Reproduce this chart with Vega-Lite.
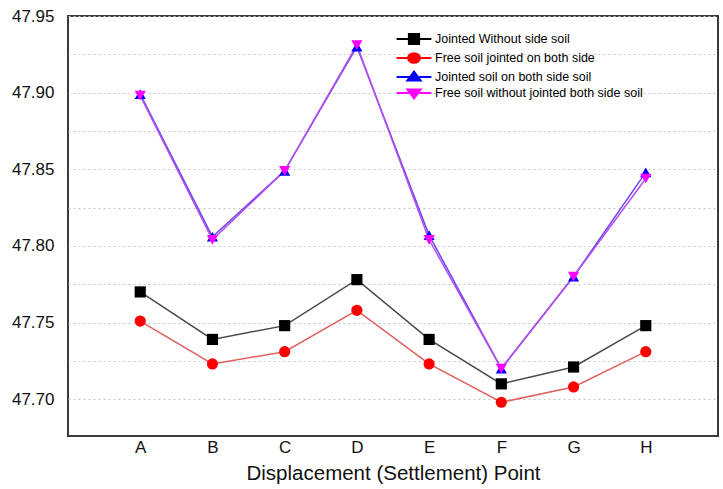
{
  "$schema": "https://vega.github.io/schema/vega-lite/v6.json",
  "width": 650,
  "height": 420,
  "autosize": "none",
  "padding": {"left": 68, "top": 16, "right": 5, "bottom": 53},
  "background": "white",
  "config": {
    "font": "Liberation Sans",
    "view": {"stroke": "#3a3a3a", "strokeWidth": 2}
  },
  "data": {
    "values": [
      {"point": "A", "series": "Jointed Without side soil", "value": 47.770},
      {"point": "B", "series": "Jointed Without side soil", "value": 47.739},
      {"point": "C", "series": "Jointed Without side soil", "value": 47.748},
      {"point": "D", "series": "Jointed Without side soil", "value": 47.778},
      {"point": "E", "series": "Jointed Without side soil", "value": 47.739},
      {"point": "F", "series": "Jointed Without side soil", "value": 47.710},
      {"point": "G", "series": "Jointed Without side soil", "value": 47.721},
      {"point": "H", "series": "Jointed Without side soil", "value": 47.748},
      {"point": "A", "series": "Free soil jointed on both side", "value": 47.751},
      {"point": "B", "series": "Free soil jointed on both side", "value": 47.723},
      {"point": "C", "series": "Free soil jointed on both side", "value": 47.731},
      {"point": "D", "series": "Free soil jointed on both side", "value": 47.758},
      {"point": "E", "series": "Free soil jointed on both side", "value": 47.723},
      {"point": "F", "series": "Free soil jointed on both side", "value": 47.698},
      {"point": "G", "series": "Free soil jointed on both side", "value": 47.708},
      {"point": "H", "series": "Free soil jointed on both side", "value": 47.731},
      {"point": "A", "series": "Jointed soil on both side soil", "value": 47.899},
      {"point": "B", "series": "Jointed soil on both side soil", "value": 47.806},
      {"point": "C", "series": "Jointed soil on both side soil", "value": 47.849},
      {"point": "D", "series": "Jointed soil on both side soil", "value": 47.930},
      {"point": "E", "series": "Jointed soil on both side soil", "value": 47.807},
      {"point": "F", "series": "Jointed soil on both side soil", "value": 47.720},
      {"point": "G", "series": "Jointed soil on both side soil", "value": 47.780},
      {"point": "H", "series": "Jointed soil on both side soil", "value": 47.848},
      {"point": "A", "series": "Free soil without jointed both side soil", "value": 47.898},
      {"point": "B", "series": "Free soil without jointed both side soil", "value": 47.804},
      {"point": "C", "series": "Free soil without jointed both side soil", "value": 47.849},
      {"point": "D", "series": "Free soil without jointed both side soil", "value": 47.931},
      {"point": "E", "series": "Free soil without jointed both side soil", "value": 47.804},
      {"point": "F", "series": "Free soil without jointed both side soil", "value": 47.720},
      {"point": "G", "series": "Free soil without jointed both side soil", "value": 47.780},
      {"point": "H", "series": "Free soil without jointed both side soil", "value": 47.844}
    ]
  },
  "encoding": {
    "x": {
      "field": "point",
      "type": "ordinal",
      "scale": {"type": "point", "padding": 1.04},
      "axis": {
        "title": "Displacement (Settlement) Point",
        "titleFontSize": 20.5,
        "titleFontWeight": "normal",
        "titleColor": "#111",
        "titlePadding": 8,
        "labelAngle": 0,
        "labelFontSize": 17,
        "labelColor": "#111",
        "labelPadding": 3,
        "ticks": false,
        "domain": false,
        "grid": false
      }
    },
    "y": {
      "field": "value",
      "type": "quantitative",
      "scale": {"domain": [47.676, 47.95], "nice": false, "zero": false},
      "axis": {
        "title": null,
        "values": [47.7, 47.725, 47.75, 47.775, 47.8, 47.825, 47.85, 47.875, 47.9, 47.925, 47.95],
        "labelExpr": "abs(datum.value * 20 - round(datum.value * 20)) < 0.01 ? format(datum.value, '.2f') : ''",
        "labelFontSize": 17,
        "labelColor": "#111",
        "labelPadding": 14,
        "ticks": false,
        "domain": false,
        "grid": true,
        "gridColor": "#c4c4c4",
        "gridDash": [2, 3],
        "gridWidth": 1,
        "encode": {"labels": {"update": {"dx": {"signal": "datum.value > 47.89 ? 8 : 0"}}}}
      }
    }
  },
  "layer": [
    {
      "mark": {"type": "line", "strokeWidth": 1.5},
      "encoding": {
        "stroke": {
          "field": "series",
          "type": "nominal",
          "scale": {
            "range": ["#e06060", "#b44cf0", "#4a4a4a", "#6a45f0"]
          },
          "legend": null
        }
      }
    },
    {
      "mark": {"type": "point", "filled": true, "opacity": 1, "size": 125},
      "encoding": {
        "fill": {
          "field": "series",
          "type": "nominal",
          "scale": {
            "domain": ["Jointed Without side soil", "Free soil jointed on both side", "Jointed soil on both side soil", "Free soil without jointed both side soil"],
            "range": ["#000000", "#ff0000", "#0000ff", "#ff00ff"]
          },
          "legend": {
            "title": null,
            "orient": "none",
            "legendX": 339,
            "legendY": 16,
            "labelFontSize": 12.5,
            "labelColor": "#000",
            "labelOffset": 14,
            "labelLimit": 400,
            "rowPadding": 0,
            "symbolSize": 144,
            "symbolStrokeWidth": 2,
            "symbolOpacity": 1,
            "encode": {
              "symbols": {
                "update": {
                  "stroke": {"signal": "scale('fill', datum.value)"},
                  "shape": {"signal": "datum.value == 'Jointed Without side soil' ? 'M-2.9,0H2.9M-0.85,-0.85H0.85V0.85H-0.85Z' : datum.value == 'Free soil jointed on both side' ? 'M-2.9,0H2.9M1,0A1,0.79 0 1,1 -1,0A1,0.79 0 1,1 1,0Z' : datum.value == 'Jointed soil on both side soil' ? 'M-2.9,0H2.9M0,-0.88L1.1,0.58H-1.1Z' : 'M-2.9,0H2.9M0,0.88L1.1,-0.58H-1.1Z'"}
                }
              }
            }
          }
        },
        "shape": {
          "field": "series",
          "type": "nominal",
          "scale": {
            "range": ["circle", "triangle-down", "square", "triangle-up"]
          },
          "legend": null
        }
      }
    }
  ]
}
